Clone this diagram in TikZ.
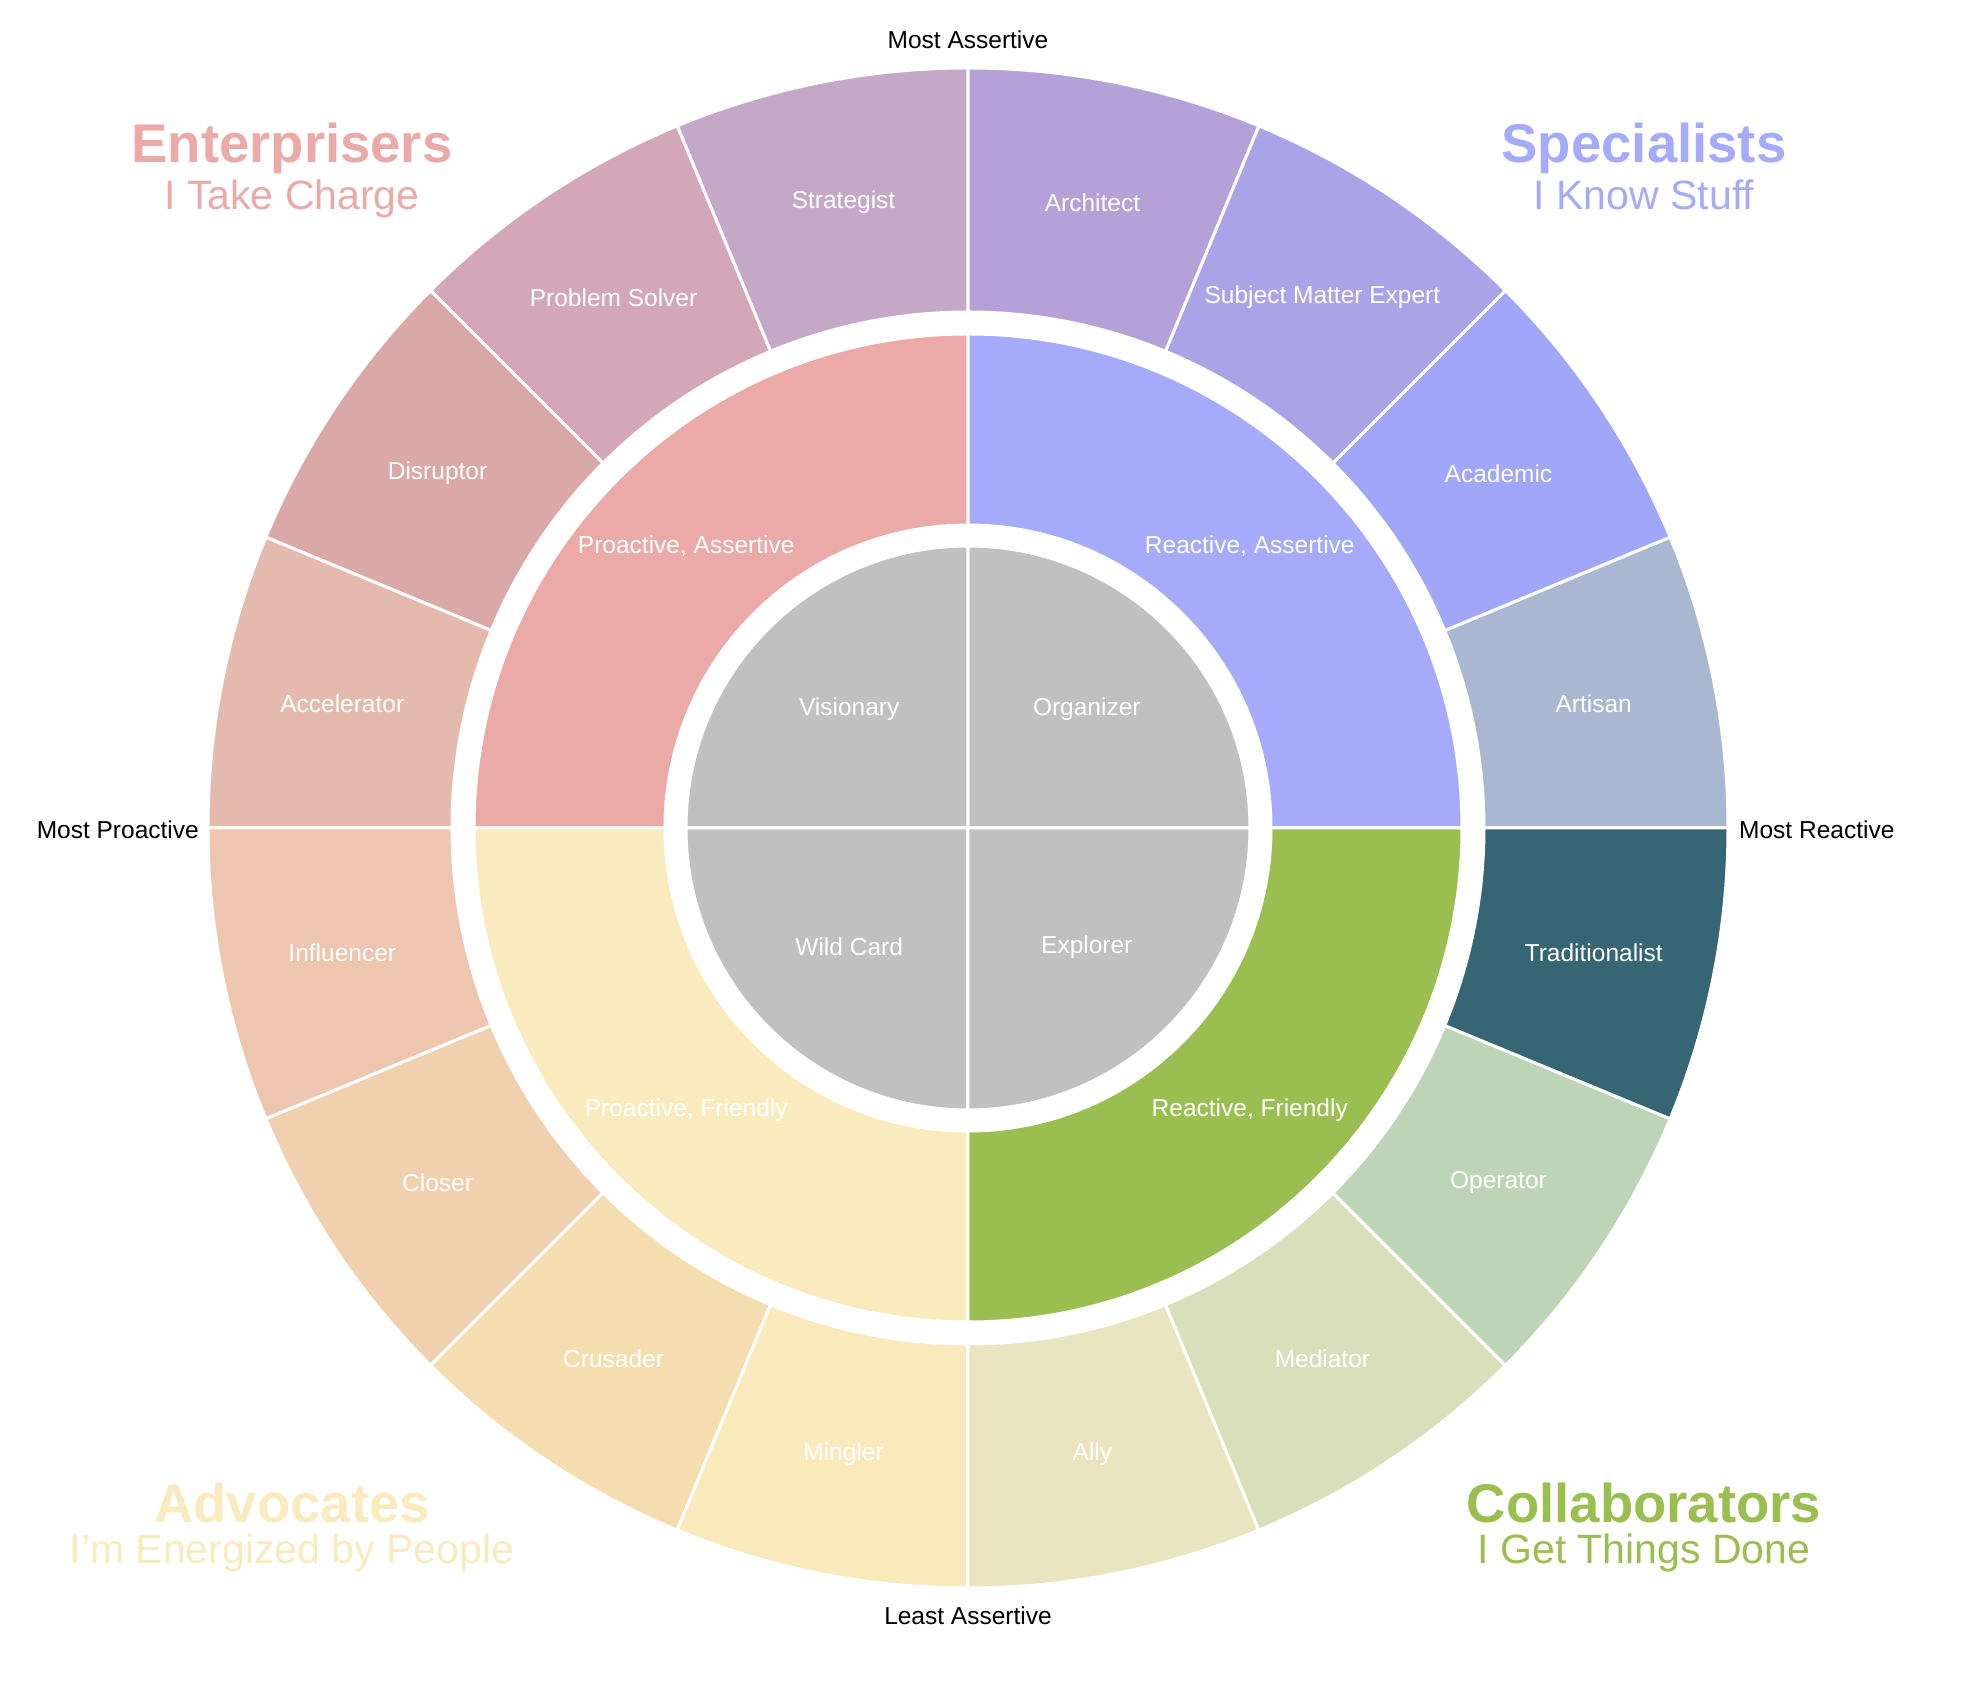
\documentclass[tikz,border=0pt]{standalone}
\usepackage{fontspec}
\setmainfont{Liberation Sans}
\definecolor{centergray}{HTML}{C0C0C0}
\definecolor{proassert}{HTML}{EBAAA8}
\definecolor{reassert}{HTML}{A5AAFA}
\definecolor{profriend}{HTML}{FAEBBE}
\definecolor{refriend}{HTML}{9ABF50}
\definecolor{artisan}{HTML}{AAB7D1}
\definecolor{academic}{HTML}{A0A6F8}
\definecolor{sme}{HTML}{ABA3E8}
\definecolor{architect}{HTML}{B5A1D7}
\definecolor{strategist}{HTML}{C5A8C8}
\definecolor{problemsolver}{HTML}{D4A7B8}
\definecolor{disruptor}{HTML}{DBA8A8}
\definecolor{accelerator}{HTML}{E4BAAF}
\definecolor{influencer}{HTML}{EEC5AF}
\definecolor{closer}{HTML}{F1D0B0}
\definecolor{crusader}{HTML}{F4DDAE}
\definecolor{mingler}{HTML}{F9E9BB}
\definecolor{ally}{HTML}{EAE5C0}
\definecolor{mediator}{HTML}{DADFBB}
\definecolor{operator}{HTML}{BED4B7}
\definecolor{traditionalist}{HTML}{366574}
\tikzset{
  wedge/.style={draw=white, line width=3pt},
  seglabel/.style={text=white, inner sep=0pt, font=\fontsize{24.5}{29}\selectfont},
  axislabel/.style={text=black, inner sep=0pt, font=\fontsize{24.5}{29}\selectfont},
  grouptitle/.style={anchor=base, inner sep=0pt, font=\fontsize{54.5}{60}\selectfont\bfseries},
  groupsub/.style={anchor=base, inner sep=0pt, font=\fontsize{41}{48}\selectfont},
}
\begin{document}
\begin{tikzpicture}[x=1pt, y=1pt]
  \useasboundingbox (-968,-868) rectangle (1008,828);

  \foreach \lbl/\col [count=\i from 0] in {Artisan/artisan, Academic/academic,
      Subject Matter Expert/sme, Architect/architect, Strategist/strategist,
      Problem Solver/problemsolver, Disruptor/disruptor, Accelerator/accelerator,
      Influencer/influencer, Closer/closer, Crusader/crusader, Mingler/mingler,
      Ally/ally, Mediator/mediator, Operator/operator, Traditionalist/traditionalist}{
    \pgfmathsetmacro\sa{22.5*\i}
    \pgfmathsetmacro\ea{22.5*(\i+1)}
    \pgfmathsetmacro\ma{22.5*\i+11.25}
    \filldraw[wedge, fill=\col] (\sa:516pt) arc[start angle=\sa, end angle=\ea, radius=516pt]
      -- (\ea:760pt) arc[start angle=\ea, end angle=\sa, radius=760pt] -- cycle;
    \node[seglabel] (outer-\i) at (\ma:638pt) {\lbl};
  }

  \foreach \lbl/\col [count=\i from 0] in {{Reactive, Assertive}/reassert,
      {Proactive, Assertive}/proassert, {Proactive, Friendly}/profriend,
      {Reactive, Friendly}/refriend}{
    \pgfmathsetmacro\sa{90*\i}
    \pgfmathsetmacro\ea{90*(\i+1)}
    \pgfmathsetmacro\ma{90*\i+45}
    \filldraw[wedge, fill=\col] (\sa:303pt) arc[start angle=\sa, end angle=\ea, radius=303pt]
      -- (\ea:494pt) arc[start angle=\ea, end angle=\sa, radius=494pt] -- cycle;
    \node[seglabel] (mid-\i) at (\ma:398.5pt) {\lbl};
  }

  \foreach \lbl [count=\i from 0] in {Organizer, Visionary, Wild Card, Explorer}{
    \pgfmathsetmacro\sa{90*\i}
    \pgfmathsetmacro\ea{90*(\i+1)}
    \pgfmathsetmacro\ma{90*\i+45}
    \filldraw[wedge, fill=centergray] (0,0) -- (\sa:282pt)
      arc[start angle=\sa, end angle=\ea, radius=282pt] -- cycle;
    \node[seglabel] (core-\i) at (\ma:168pt) {\lbl};
  }

  \node[axislabel]               (mostassert)  at (0,788)   {Most Assertive};
  \node[axislabel]               (leastassert) at (0,-788)  {Least Assertive};
  \node[axislabel, anchor=east]  (mostpro)     at (-769,-2) {Most Proactive};
  \node[axislabel, anchor=west]  (mostre)      at (771,-2)  {Most Reactive};

  \node[grouptitle, text=proassert] (entr)     at (-676,665)  {Enterprisers};
  \node[groupsub,   text=proassert] (entrsub)  at (-676,618)  {I Take Charge};
  \node[grouptitle, text=reassert]  (spec)     at (676,665)   {Specialists};
  \node[groupsub,   text=reassert]  (specsub)  at (676,618)   {I Know Stuff};
  \node[grouptitle, text=profriend] (advo)     at (-676,-694) {Advocates};
  \node[groupsub,   text=profriend] (advosub)  at (-676,-735) {I'm Energized by People};
  \node[grouptitle, text=refriend]  (collab)   at (676,-694)  {Collaborators};
  \node[groupsub,   text=refriend]  (collabsub) at (676,-735) {I Get Things Done};
\end{tikzpicture}
\end{document}
